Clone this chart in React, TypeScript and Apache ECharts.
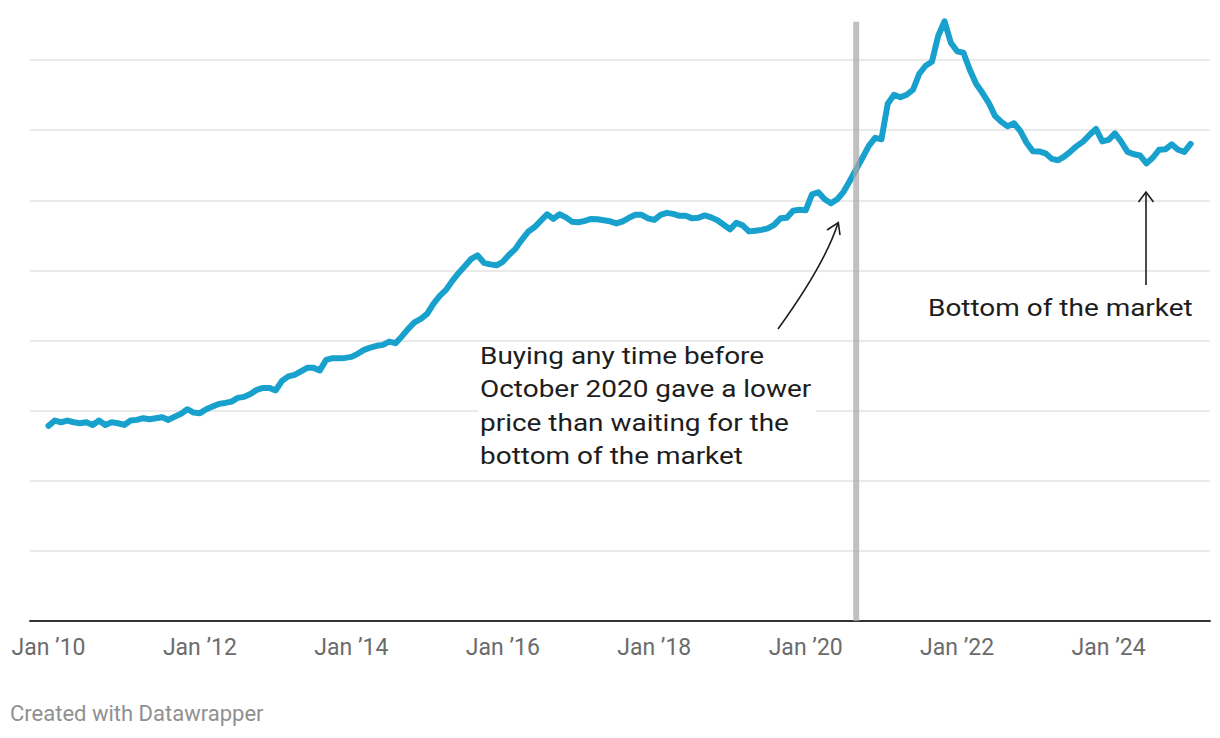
import React, { useEffect, useRef } from "react";
import * as echarts from "echarts";

// Monthly index values, Jan 2010 (month 0) to Feb 2025 (month 181)
const values: number[] = [
  139.1, 142.9, 141.7, 142.9, 141.7, 141.0, 141.7, 139.8, 142.9, 139.8,
  141.7, 141.0, 139.8, 142.9, 143.4, 144.6, 143.9, 144.6, 145.3, 143.4,
  145.7, 147.7, 151.0, 148.6, 148.2, 151.0, 152.9, 154.8, 155.5, 156.4,
  159.1, 159.8, 161.9, 164.8, 166.2, 166.2, 164.4, 171.2, 174.4, 175.5,
  178.0, 180.5, 180.5, 178.7, 186.2, 187.4, 187.4, 187.6, 188.3, 190.5,
  193.3, 194.9, 196.2, 196.9, 199.2, 198.1, 202.9, 208.3, 212.9, 215.4,
  219.0, 226.1, 231.8, 236.1, 242.5, 248.2, 253.2, 258.2, 260.7, 255.4,
  254.3, 253.6, 256.1, 261.1, 265.3, 271.8, 277.5, 280.7, 285.3, 290.0,
  286.7, 290.0, 287.8, 284.6, 284.3, 285.3, 286.7, 286.4, 285.7, 285.0,
  283.5, 285.0, 287.5, 289.6, 289.6, 287.1, 286.0, 289.6, 291.0, 290.3,
  288.9, 288.9, 287.1, 287.5, 289.2, 287.8, 285.7, 282.5, 279.3, 283.9,
  282.1, 277.8, 278.2, 278.9, 280.0, 282.5, 287.1, 287.5, 292.5, 293.2,
  292.8, 304.2, 305.7, 300.7, 297.8, 300.7, 306.0, 313.9, 322.1, 330.3,
  338.8, 344.5, 343.5, 368.8, 375.2, 373.4, 375.2, 378.8, 390.2, 395.9,
  398.7, 417.3, 427.6, 412.3, 406.2, 405.2, 393.0, 383.0, 376.6, 369.5,
  360.2, 355.9, 352.7, 354.9, 349.5, 341.0, 334.9, 334.8, 333.5, 329.5,
  328.5, 331.3, 334.9, 338.8, 342.0, 346.7, 350.9, 342.0, 343.1, 347.7,
  341.7, 334.5, 332.8, 331.9, 326.3, 330.3, 336.0, 336.3, 339.9, 336.0,
  334.5, 340.2,
];

const tickMonths: number[] = [0, 24, 48, 72, 96, 120, 144, 168];
const tickLabels: string[] = [
  "Jan ’10", "Jan ’12", "Jan ’14", "Jan ’16",
  "Jan ’18", "Jan ’20", "Jan ’22", "Jan ’24",
];
const markerMonth = 128; // Sep 2020
const markerRange: number[] = [0, 427.3];

const noteLeft = "Buying any time before\nOctober 2020 gave a lower\nprice than waiting for the\nbottom of the market";
const noteRight = "Bottom of the market";
const footer = "Created with Datawrapper";

const FONT = "Roboto, 'Noto Sans', sans-serif";

export default function App() {
  const ref = useRef<HTMLDivElement>(null);

  useEffect(() => {
    if (!ref.current) return;
    const chart = echarts.init(ref.current, null, { renderer: "svg" });
    const seriesData = values.map((v, i) => [i, v]);
    const markerData = markerRange.map((v) => [markerMonth, v]);

    chart.setOption({
      animation: false,
      backgroundColor: "#ffffff",
      textStyle: { fontFamily: FONT },
      grid: { left: 30, right: 10, top: 60, bottom: 117, containLabel: false },
      xAxis: {
        type: "value",
        min: -2.93,
        max: 184.07,
        splitLine: { show: false },
        axisTick: { show: false },
        axisLine: { show: true, lineStyle: { color: "#333333", width: 2 } },
        axisLabel: {
          show: true,
          customValues: tickMonths,
          formatter: (v: number) => {
            const k = tickMonths.indexOf(Math.round(v));
            return k >= 0 ? tickLabels[k] : "";
          },
          color: "#6b6b6b",
          fontSize: 23,
          fontFamily: FONT,
          margin: 15,
        },
      },
      yAxis: {
        type: "value",
        min: 0,
        max: 400,
        interval: 50,
        axisLine: { show: false },
        axisTick: { show: false },
        axisLabel: { show: false },
        splitLine: { show: true, lineStyle: { color: "#e3e3e3", width: 1.5 } },
      },
      series: [
        {
          type: "line",
          data: seriesData,
          clip: false,
          showSymbol: false,
          symbol: "none",
          lineStyle: { color: "#18a1cd", width: 6, cap: "round", join: "round" },
          z: 3,
        },
        {
          type: "line",
          data: markerData,
          clip: false,
          showSymbol: false,
          symbol: "none",
          silent: true,
          lineStyle: { color: "#a8a8a8", width: 6, opacity: 0.72, cap: "butt" },
          z: 4,
        },
      ],
      graphic: [
        {
          type: "rect",
          z: 19,
          shape: { x: 478, y: 344, width: 338, height: 125 },
          style: { fill: "#ffffff" },
        },
        {
          type: "text",
          z: 20,
          left: 480,
          top: 339,
          scaleX: 1.165,
          style: {
            text: noteLeft,
            font: `24px ${FONT}`,
            fill: "#1d1d1d",
            lineHeight: 33.3,
          },
        },
        {
          type: "text",
          z: 20,
          left: 928,
          top: 296,
          scaleX: 1.165,
          style: {
            text: noteRight,
            font: `24px ${FONT}`,
            fill: "#1d1d1d",
          },
        },
        {
          type: "bezierCurve",
          z: 20,
          shape: { x1: 778, y1: 329, x2: 838, y2: 223, cpx1: 825, cpy1: 264 },
          style: { stroke: "#1d1d1d", lineWidth: 1.6, fill: "none" },
        },
        {
          type: "polyline",
          z: 20,
          shape: { points: [[827, 230], [838.3, 222.7], [840, 235]] },
          style: { stroke: "#1d1d1d", lineWidth: 1.6, fill: "none" },
        },
        {
          type: "line",
          z: 20,
          shape: { x1: 1146, y1: 285, x2: 1146, y2: 192.5 },
          style: { stroke: "#1d1d1d", lineWidth: 1.6 },
        },
        {
          type: "polyline",
          z: 20,
          shape: { points: [[1138.5, 202], [1146, 192], [1153.5, 202]] },
          style: { stroke: "#1d1d1d", lineWidth: 1.6, fill: "none" },
        },
        {
          type: "text",
          z: 20,
          left: 10,
          top: 702,
          style: {
            text: footer,
            font: `22px ${FONT}`,
            fill: "#909090",
          },
        },
      ],
    });

    return () => {
      chart.dispose();
    };
  }, []);

  return (
    <div
      ref={ref}
      style={{ position: "fixed", left: 0, top: 0, width: 1220, height: 738 }}
    />
  );
}
